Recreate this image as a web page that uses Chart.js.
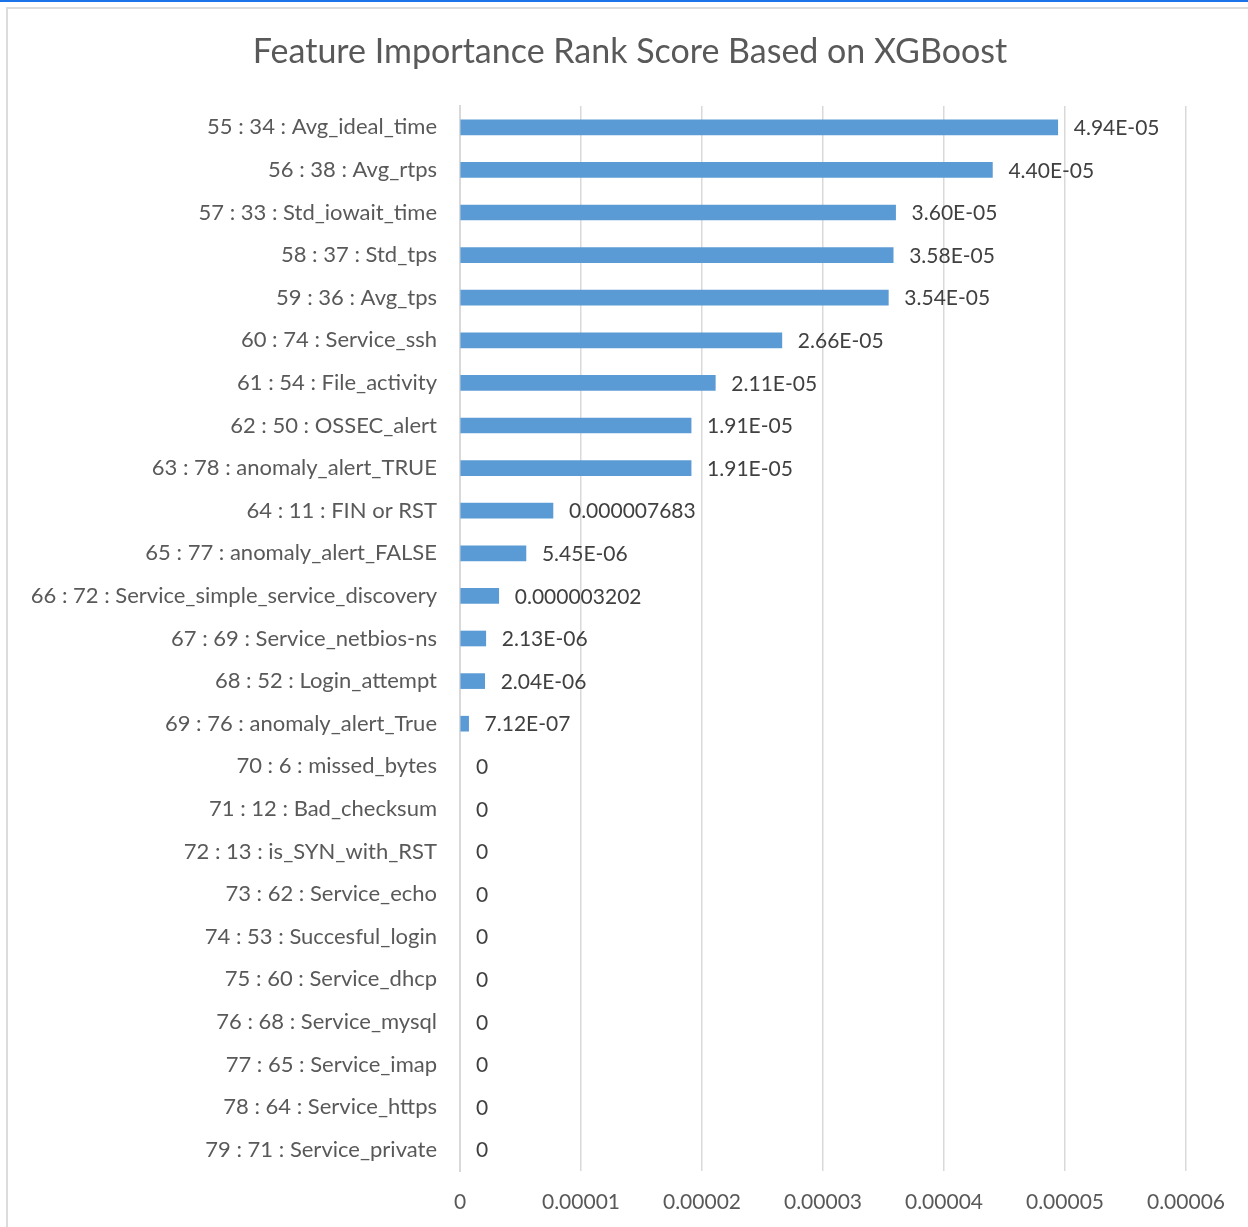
<!DOCTYPE html>
<html>
<head>
<meta charset="utf-8">
<title>Feature Importance Rank Score Based on XGBoost</title>
<script src="https://cdn.jsdelivr.net/npm/chart.js@4.4.1/dist/chart.umd.min.js"></script>
<style>
  html, body { margin: 0; padding: 0; background: #fff; overflow: hidden; }
  .topline { position: absolute; left: 0; top: 0; width: 1248px; height: 2px; background: #1a73e8; }
  .frame { position: absolute; left: 6px; top: 7px; width: 1260px; height: 1240px; border: 2px solid #dcdcdc; box-sizing: border-box; }
  .chart-wrap { position: absolute; left: 0; top: 0; width: 1248px; height: 1227px; }
</style>
</head>
<body>
<div class="topline"></div>
<div class="frame"></div>
<div class="chart-wrap"><canvas id="importanceChart"></canvas></div>
<script>
const chartTitle = 'Feature Importance Rank Score Based on XGBoost';

const features = [
  '55 : 34 : Avg_ideal_time',
  '56 : 38 : Avg_rtps',
  '57 : 33 : Std_iowait_time',
  '58 : 37 : Std_tps',
  '59 : 36 : Avg_tps',
  '60 : 74 : Service_ssh',
  '61 : 54 : File_activity',
  '62 : 50 : OSSEC_alert',
  '63 : 78 : anomaly_alert_TRUE',
  '64 : 11 : FIN or RST',
  '65 : 77 : anomaly_alert_FALSE',
  '66 : 72 : Service_simple_service_discovery',
  '67 : 69 : Service_netbios-ns',
  '68 : 52 : Login_attempt',
  '69 : 76 : anomaly_alert_True',
  '70 : 6 : missed_bytes',
  '71 : 12 : Bad_checksum',
  '72 : 13 : is_SYN_with_RST',
  '73 : 62 : Service_echo',
  '74 : 53 : Succesful_login',
  '75 : 60 : Service_dhcp',
  '76 : 68 : Service_mysql',
  '77 : 65 : Service_imap',
  '78 : 64 : Service_https',
  '79 : 71 : Service_private'
];

// scores as printed next to each bar
const scoreText = [
  '4.94E-05', '4.40E-05', '3.60E-05', '3.58E-05', '3.54E-05',
  '2.66E-05', '2.11E-05', '1.91E-05', '1.91E-05', '0.000007683',
  '5.45E-06', '0.000003202', '2.13E-06', '2.04E-06', '7.12E-07',
  '0', '0', '0', '0', '0', '0', '0', '0', '0', '0'
];
const scores = scoreText.map(Number);

const xTicks = [0, 0.00001, 0.00002, 0.00003, 0.00004, 0.00005, 0.00006];
const xTickText = ['0', '0.00001', '0.00002', '0.00003', '0.00004', '0.00005', '0.00006'];

const FONT = 'Lato, "Open Sans", sans-serif';
const BAR_COLOR = '#5b9bd5';

// title is centred on the bordered frame, not on the plot
const frameTitle = {
  id: 'frameTitle',
  afterDraw(chart) {
    const ctx = chart.ctx;
    ctx.save();
    ctx.font = `34px ${FONT}`;
    ctx.fillStyle = '#595959';
    ctx.textAlign = 'center';
    ctx.textBaseline = 'middle';
    ctx.fillText(chartTitle, (chart.width + 12) / 2, 52);
    ctx.restore();
  }
};

const barLabels = {
  id: 'barLabels',
  afterDatasetsDraw(chart) {
    const ctx = chart.ctx;
    const meta = chart.getDatasetMeta(0);
    ctx.save();
    ctx.font = `21px ${FONT}`;
    ctx.fillStyle = '#404040';
    ctx.textAlign = 'left';
    ctx.textBaseline = 'middle';
    meta.data.forEach((bar, i) => {
      ctx.fillText(scoreText[i], bar.x + 16, bar.y + 1);
    });
    ctx.restore();
  }
};

new Chart(document.getElementById('importanceChart'), {
  type: 'bar',
  data: {
    labels: features,
    datasets: [{
      data: scores,
      // zero-width bars would otherwise leave a hairline on the axis
      backgroundColor: (c) => (c.raw === 0 ? 'rgba(0,0,0,0)' : BAR_COLOR),
      barThickness: 15,
      borderWidth: 0
    }]
  },
  options: {
    indexAxis: 'y',
    responsive: true,
    maintainAspectRatio: false,
    animation: false,
    layout: { padding: { left: 0, right: 62, top: 106, bottom: 0 } },
    plugins: {
      legend: { display: false },
      tooltip: { enabled: false },
      title: { display: false }
    },
    scales: {
      x: {
        min: 0,
        max: 0.00006,
        afterBuildTicks(scale) {
          scale.ticks = xTicks.map((v) => ({ value: v }));
        },
        afterFit(scale) { scale.height = 56; },
        grid: { color: '#d9d9d9', lineWidth: 1.5, drawTicks: false },
        border: { display: false },
        ticks: {
          color: '#595959',
          padding: 19,
          font: { family: FONT, size: 21 },
          callback: (v, i) => xTickText[i]
        }
      },
      y: {
        afterFit(scale) { scale.width = 460; },
        grid: { display: false, drawTicks: false },
        border: { display: true, color: '#d9d9d9', width: 2 },
        ticks: {
          color: '#595959',
          padding: 23,
          autoSkip: false,
          font: { family: FONT, size: 22, lineHeight: 1.1 }
        }
      }
    }
  },
  plugins: [barLabels, frameTitle]
});
</script>
</body>
</html>
